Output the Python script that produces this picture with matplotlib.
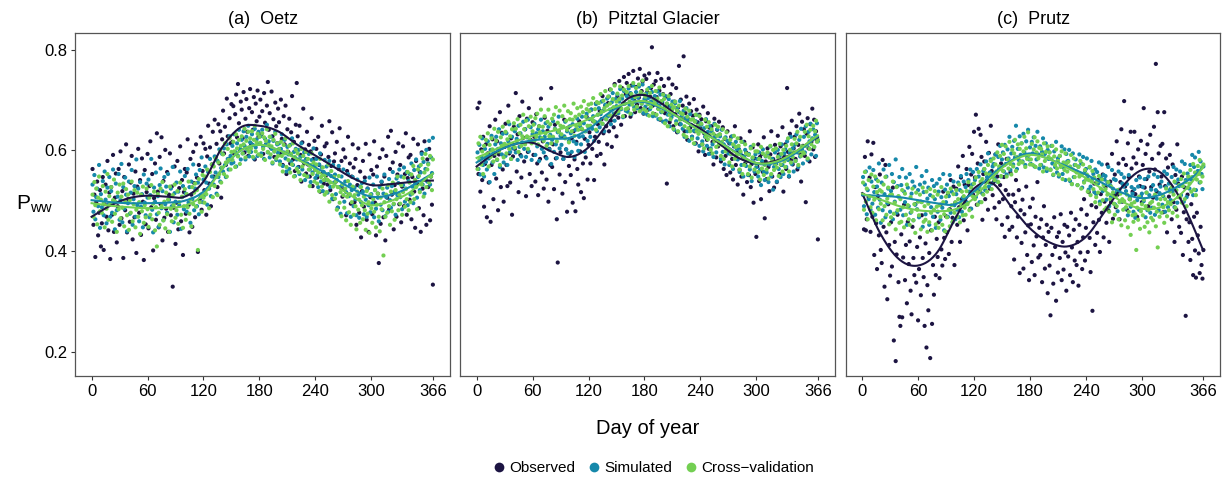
import numpy as np
import matplotlib
matplotlib.use("Agg")
import matplotlib.pyplot as plt
from matplotlib.lines import Line2D

plt.rcParams['font.family'] = ['Liberation Sans', 'DejaVu Sans']

days = np.arange(1, 367)
knot_days = [0, 20, 40, 60, 80, 100, 120, 140, 160, 180, 200, 220, 240, 260, 280, 300, 320, 340, 360, 366]

titles = ["(a)  Oetz", "(b)  Pitztal Glacier", "(c)  Prutz"]
series_names = ["Observed", "Simulated", "Cross\u2212validation"]
colors = ["#1c1442", "#1688aa", "#73cf52"]

# ---- (a) Oetz ----
oetz_obs = [
    0.563, 0.452, 0.512, 0.388, 0.497, 0.538, 0.431, 0.476, 0.521, 0.409,
    0.455, 0.547, 0.402, 0.493, 0.532, 0.468, 0.579, 0.441, 0.516, 0.384,
    0.527, 0.472, 0.591, 0.438, 0.506, 0.554, 0.417, 0.489, 0.563, 0.452,
    0.598, 0.465, 0.519, 0.386, 0.547, 0.481, 0.612, 0.437, 0.503, 0.572,
    0.458, 0.536, 0.589, 0.423, 0.514, 0.467, 0.558, 0.396, 0.528, 0.603,
    0.476, 0.541, 0.432, 0.584, 0.498, 0.382, 0.561, 0.453, 0.517, 0.593,
    0.445, 0.529, 0.618, 0.487, 0.553, 0.401, 0.505, 0.574, 0.462, 0.634,
    0.518, 0.447, 0.587, 0.493, 0.626, 0.421, 0.539, 0.466, 0.601, 0.484,
    0.557, 0.438, 0.512, 0.594, 0.471, 0.528, 0.329, 0.486, 0.568, 0.414,
    0.496, 0.579, 0.443, 0.525, 0.608, 0.459, 0.541, 0.392, 0.517, 0.563,
    0.474, 0.556, 0.622, 0.491, 0.437, 0.583, 0.512, 0.448, 0.597, 0.535,
    0.467, 0.612, 0.546, 0.398, 0.571, 0.503, 0.627, 0.482, 0.559, 0.614,
    0.521, 0.603, 0.472, 0.588, 0.649, 0.534, 0.606, 0.489, 0.572, 0.637,
    0.548, 0.661, 0.586, 0.613, 0.527, 0.652, 0.574, 0.638, 0.506, 0.622,
    0.679, 0.594, 0.647, 0.571, 0.703, 0.628, 0.583, 0.664, 0.614, 0.692,
    0.617, 0.688, 0.593, 0.672, 0.711, 0.626, 0.732, 0.654, 0.602, 0.697,
    0.681, 0.624, 0.716, 0.596, 0.663, 0.702, 0.637, 0.589, 0.684, 0.722,
    0.613, 0.676, 0.641, 0.706, 0.582, 0.693, 0.658, 0.719, 0.627, 0.667,
    0.701, 0.632, 0.678, 0.593, 0.714, 0.655, 0.612, 0.689, 0.736, 0.641,
    0.674, 0.606, 0.717, 0.628, 0.662, 0.587, 0.695, 0.648, 0.614, 0.683,
    0.656, 0.594, 0.701, 0.623, 0.571, 0.668, 0.612, 0.689, 0.553, 0.642,
    0.597, 0.663, 0.574, 0.636, 0.708, 0.582, 0.617, 0.559, 0.651, 0.734,
    0.628, 0.567, 0.649, 0.591, 0.538, 0.616, 0.683, 0.574, 0.602, 0.554,
    0.637, 0.572, 0.611, 0.548, 0.598, 0.664, 0.529, 0.583, 0.619, 0.561,
    0.603, 0.546, 0.627, 0.571, 0.518, 0.592, 0.649, 0.556, 0.534, 0.608,
    0.549, 0.614, 0.532, 0.587, 0.658, 0.521, 0.569, 0.636, 0.503, 0.578,
    0.594, 0.538, 0.617, 0.486, 0.563, 0.644, 0.526, 0.579, 0.508, 0.602,
    0.523, 0.586, 0.471, 0.559, 0.627, 0.512, 0.574, 0.494, 0.548, 0.612,
    0.566, 0.497, 0.583, 0.452, 0.531, 0.604, 0.476, 0.558, 0.427, 0.519,
    0.579, 0.488, 0.546, 0.613, 0.462, 0.524, 0.438, 0.592, 0.507, 0.561,
    0.473, 0.552, 0.618, 0.496, 0.431, 0.568, 0.514, 0.376, 0.585, 0.454,
    0.537, 0.602, 0.467, 0.548, 0.421, 0.589, 0.506, 0.627, 0.482, 0.563,
    0.639, 0.512, 0.576, 0.443, 0.531, 0.597, 0.468, 0.552, 0.614, 0.493,
    0.571, 0.457, 0.528, 0.608, 0.489, 0.553, 0.634, 0.472, 0.545, 0.586,
    0.502, 0.591, 0.463, 0.547, 0.623, 0.518, 0.446, 0.579, 0.534, 0.612,
    0.485, 0.557, 0.438, 0.596, 0.524, 0.471, 0.618, 0.543, 0.452, 0.582,
    0.527, 0.603, 0.461, 0.548, 0.492, 0.333]
oetz_sim = [
    0.532, 0.478, 0.551, 0.463, 0.507, 0.524, 0.489, 0.571, 0.446, 0.513,
    0.487, 0.539, 0.471, 0.558, 0.502, 0.455, 0.526, 0.492, 0.547, 0.468,
    0.519, 0.476, 0.562, 0.497, 0.443, 0.534, 0.481, 0.508, 0.553, 0.462,
    0.501, 0.573, 0.457, 0.527, 0.484, 0.546, 0.512, 0.439, 0.495, 0.538,
    0.474, 0.516, 0.561, 0.452, 0.503, 0.529, 0.468, 0.582, 0.491, 0.524,
    0.459, 0.537, 0.488, 0.513, 0.447, 0.552, 0.496, 0.471, 0.534, 0.506,
    0.542, 0.467, 0.511, 0.583, 0.482, 0.437, 0.526, 0.498, 0.556, 0.473,
    0.509, 0.448, 0.531, 0.564, 0.485, 0.519, 0.461, 0.547, 0.493, 0.528,
    0.476, 0.553, 0.502, 0.438, 0.524, 0.489, 0.567, 0.457, 0.515, 0.498,
    0.536, 0.472, 0.518, 0.491, 0.558, 0.444, 0.507, 0.529, 0.483, 0.549,
    0.514, 0.478, 0.563, 0.496, 0.527, 0.456, 0.538, 0.503, 0.572, 0.481,
    0.524, 0.552, 0.489, 0.536, 0.473, 0.561, 0.507, 0.586, 0.497, 0.542,
    0.511, 0.568, 0.536, 0.492, 0.557, 0.524, 0.583, 0.509, 0.548, 0.571,
    0.532, 0.588, 0.556, 0.514, 0.579, 0.547, 0.602, 0.538, 0.565, 0.593,
    0.558, 0.604, 0.571, 0.547, 0.612, 0.583, 0.562, 0.628, 0.589, 0.574,
    0.609, 0.576, 0.632, 0.597, 0.568, 0.614, 0.589, 0.641, 0.603, 0.582,
    0.621, 0.594, 0.638, 0.609, 0.582, 0.627, 0.601, 0.649, 0.588, 0.616,
    0.597, 0.632, 0.611, 0.584, 0.643, 0.606, 0.622, 0.589, 0.637, 0.613,
    0.628, 0.594, 0.641, 0.607, 0.583, 0.623, 0.612, 0.651, 0.596, 0.618,
    0.586, 0.627, 0.603, 0.574, 0.619, 0.598, 0.637, 0.581, 0.612, 0.595,
    0.614, 0.578, 0.603, 0.632, 0.569, 0.596, 0.621, 0.584, 0.558, 0.607,
    0.592, 0.563, 0.611, 0.578, 0.624, 0.571, 0.597, 0.549, 0.603, 0.582,
    0.566, 0.601, 0.553, 0.587, 0.614, 0.562, 0.578, 0.596, 0.541, 0.583,
    0.574, 0.548, 0.593, 0.562, 0.537, 0.581, 0.556, 0.604, 0.569, 0.545,
    0.583, 0.551, 0.527, 0.572, 0.594, 0.538, 0.566, 0.519, 0.557, 0.581,
    0.541, 0.568, 0.516, 0.553, 0.579, 0.527, 0.549, 0.504, 0.571, 0.536,
    0.552, 0.513, 0.541, 0.486, 0.569, 0.527, 0.474, 0.548, 0.531, 0.562,
    0.498, 0.538, 0.517, 0.475, 0.553, 0.509, 0.532, 0.468, 0.521, 0.547,
    0.489, 0.526, 0.503, 0.471, 0.542, 0.512, 0.466, 0.528, 0.497, 0.535,
    0.518, 0.473, 0.539, 0.502, 0.468, 0.524, 0.491, 0.546, 0.477, 0.513,
    0.495, 0.532, 0.467, 0.521, 0.484, 0.548, 0.506, 0.459, 0.527, 0.492,
    0.538, 0.481, 0.514, 0.552, 0.469, 0.507, 0.526, 0.478, 0.543, 0.501,
    0.486, 0.529, 0.557, 0.493, 0.518, 0.472, 0.544, 0.511, 0.535, 0.562,
    0.507, 0.548, 0.483, 0.531, 0.566, 0.498, 0.524, 0.557, 0.491, 0.539,
    0.553, 0.512, 0.574, 0.528, 0.495, 0.561, 0.534, 0.582, 0.506, 0.547,
    0.568, 0.521, 0.556, 0.593, 0.532, 0.577, 0.514, 0.563, 0.601, 0.538,
    0.574, 0.619, 0.532, 0.586, 0.555, 0.625]
oetz_cv = [
    0.512, 0.468, 0.537, 0.491, 0.524, 0.453, 0.506, 0.548, 0.479, 0.502,
    0.476, 0.529, 0.495, 0.447, 0.518, 0.484, 0.553, 0.462, 0.509, 0.493,
    0.527, 0.458, 0.501, 0.542, 0.474, 0.497, 0.438, 0.516, 0.483, 0.532,
    0.465, 0.508, 0.486, 0.534, 0.449, 0.497, 0.523, 0.471, 0.512, 0.442,
    0.501, 0.476, 0.538, 0.459, 0.493, 0.521, 0.447, 0.482, 0.516, 0.468,
    0.497, 0.434, 0.512, 0.479, 0.528, 0.456, 0.491, 0.467, 0.524, 0.483,
    0.448, 0.506, 0.472, 0.531, 0.463, 0.494, 0.518, 0.441, 0.487, 0.409,
    0.513, 0.476, 0.452, 0.524, 0.489, 0.537, 0.461, 0.498, 0.445, 0.516,
    0.473, 0.502, 0.438, 0.528, 0.484, 0.459, 0.511, 0.492, 0.532, 0.466,
    0.481, 0.519, 0.454, 0.497, 0.536, 0.472, 0.508, 0.446, 0.489, 0.523,
    0.462, 0.513, 0.487, 0.538, 0.474, 0.502, 0.449, 0.527, 0.493, 0.516,
    0.534, 0.488, 0.521, 0.402, 0.543, 0.497, 0.512, 0.478, 0.551, 0.506,
    0.496, 0.548, 0.513, 0.562, 0.524, 0.485, 0.557, 0.531, 0.572, 0.507,
    0.568, 0.529, 0.584, 0.547, 0.511, 0.576, 0.553, 0.598, 0.536, 0.566,
    0.592, 0.553, 0.614, 0.576, 0.548, 0.603, 0.581, 0.624, 0.562, 0.597,
    0.581, 0.617, 0.598, 0.567, 0.632, 0.604, 0.588, 0.621, 0.573, 0.609,
    0.628, 0.594, 0.612, 0.643, 0.586, 0.619, 0.603, 0.637, 0.597, 0.624,
    0.604, 0.638, 0.587, 0.621, 0.649, 0.598, 0.616, 0.633, 0.592, 0.627,
    0.615, 0.589, 0.634, 0.603, 0.626, 0.581, 0.619, 0.642, 0.597, 0.611,
    0.627, 0.592, 0.608, 0.576, 0.621, 0.598, 0.633, 0.584, 0.614, 0.589,
    0.603, 0.572, 0.617, 0.589, 0.558, 0.611, 0.594, 0.624, 0.567, 0.598,
    0.581, 0.609, 0.556, 0.593, 0.572, 0.614, 0.548, 0.587, 0.601, 0.563,
    0.594, 0.557, 0.582, 0.541, 0.603, 0.568, 0.589, 0.551, 0.576, 0.597,
    0.548, 0.583, 0.562, 0.529, 0.571, 0.594, 0.553, 0.576, 0.538, 0.561,
    0.572, 0.534, 0.556, 0.519, 0.583, 0.547, 0.528, 0.566, 0.541, 0.512,
    0.553, 0.517, 0.541, 0.572, 0.498, 0.536, 0.559, 0.511, 0.528, 0.547,
    0.504, 0.538, 0.482, 0.527, 0.549, 0.496, 0.517, 0.469, 0.533, 0.511,
    0.486, 0.524, 0.461, 0.508, 0.539, 0.477, 0.513, 0.452, 0.497, 0.528,
    0.472, 0.511, 0.489, 0.443, 0.518, 0.482, 0.502, 0.456, 0.527, 0.491,
    0.463, 0.508, 0.481, 0.442, 0.519, 0.474, 0.497, 0.436, 0.512, 0.485,
    0.456, 0.503, 0.478, 0.521, 0.447, 0.492, 0.514, 0.468, 0.439, 0.506,
    0.483, 0.524, 0.391, 0.497, 0.468, 0.512, 0.476, 0.531, 0.489, 0.452,
    0.518, 0.479, 0.536, 0.494, 0.462, 0.521, 0.503, 0.548, 0.481, 0.512,
    0.494, 0.531, 0.472, 0.517, 0.546, 0.488, 0.523, 0.503, 0.557, 0.481,
    0.536, 0.497, 0.552, 0.514, 0.569, 0.503, 0.541, 0.527, 0.483, 0.562,
    0.549, 0.517, 0.571, 0.532, 0.584, 0.508, 0.556, 0.593, 0.527, 0.562,
    0.572, 0.536, 0.589, 0.548, 0.521, 0.582]
oetz_obs_line = [0.468, 0.490, 0.505, 0.510, 0.508, 0.508, 0.538, 0.606, 0.646, 0.649,
                 0.638, 0.612, 0.590, 0.567, 0.545, 0.531, 0.533, 0.537, 0.540, 0.540]
oetz_sim_line = [0.501, 0.497, 0.495, 0.495, 0.496, 0.500, 0.518, 0.563, 0.600, 0.611,
                 0.601, 0.584, 0.566, 0.545, 0.523, 0.508, 0.511, 0.526, 0.548, 0.554]
oetz_cv_line = [0.495, 0.490, 0.487, 0.485, 0.486, 0.490, 0.512, 0.563, 0.600, 0.611,
                0.601, 0.583, 0.562, 0.533, 0.508, 0.491, 0.499, 0.515, 0.546, 0.554]

# ---- (b) Pitztal Glacier ----
pitztal_obs = [
    0.684, 0.553, 0.695, 0.518, 0.602, 0.541, 0.627, 0.488, 0.573, 0.612,
    0.467, 0.594, 0.536, 0.648, 0.458, 0.571, 0.622, 0.503, 0.589, 0.661,
    0.544, 0.618, 0.481, 0.592, 0.676, 0.527, 0.635, 0.562, 0.498, 0.607,
    0.653, 0.571, 0.529, 0.689, 0.594, 0.536, 0.624, 0.472, 0.588, 0.647,
    0.603, 0.714, 0.558, 0.632, 0.517, 0.668, 0.591, 0.546, 0.697, 0.625,
    0.578, 0.642, 0.509, 0.663, 0.597, 0.684, 0.553, 0.621, 0.529, 0.656,
    0.591, 0.627, 0.538, 0.672, 0.574, 0.511, 0.648, 0.583, 0.703, 0.556,
    0.618, 0.524, 0.665, 0.587, 0.542, 0.639, 0.498, 0.603, 0.571, 0.724,
    0.567, 0.612, 0.523, 0.651, 0.584, 0.463, 0.377, 0.638, 0.552, 0.596,
    0.627, 0.514, 0.583, 0.661, 0.537, 0.602, 0.478, 0.645, 0.569, 0.593,
    0.551, 0.624, 0.496, 0.638, 0.582, 0.479, 0.617, 0.563, 0.532, 0.658,
    0.598, 0.517, 0.642, 0.574, 0.505, 0.623, 0.586, 0.667, 0.542, 0.611,
    0.636, 0.574, 0.681, 0.603, 0.658, 0.541, 0.627, 0.693, 0.589, 0.652,
    0.617, 0.679, 0.593, 0.662, 0.708, 0.634, 0.572, 0.689, 0.648, 0.612,
    0.694, 0.638, 0.721, 0.659, 0.607, 0.683, 0.646, 0.732, 0.671, 0.628,
    0.707, 0.665, 0.738, 0.682, 0.651, 0.724, 0.693, 0.746, 0.668, 0.712,
    0.734, 0.682, 0.752, 0.711, 0.667, 0.729, 0.694, 0.758, 0.703, 0.676,
    0.726, 0.691, 0.743, 0.705, 0.762, 0.684, 0.718, 0.737, 0.673, 0.749,
    0.698, 0.742, 0.716, 0.681, 0.753, 0.707, 0.724, 0.805, 0.689, 0.731,
    0.672, 0.738, 0.706, 0.754, 0.683, 0.719, 0.661, 0.742, 0.695, 0.712,
    0.728, 0.674, 0.707, 0.534, 0.689, 0.743, 0.656, 0.712, 0.681, 0.731,
    0.648, 0.697, 0.672, 0.724, 0.636, 0.685, 0.768, 0.652, 0.701, 0.663,
    0.689, 0.787, 0.638, 0.674, 0.707, 0.621, 0.662, 0.693, 0.645, 0.678,
    0.627, 0.669, 0.702, 0.638, 0.614, 0.681, 0.656, 0.598, 0.671, 0.643,
    0.662, 0.612, 0.687, 0.634, 0.591, 0.658, 0.621, 0.674, 0.603, 0.645,
    0.594, 0.648, 0.617, 0.572, 0.663, 0.629, 0.586, 0.641, 0.608, 0.657,
    0.631, 0.578, 0.612, 0.646, 0.563, 0.623, 0.589, 0.551, 0.638, 0.597,
    0.614, 0.556, 0.627, 0.583, 0.542, 0.608, 0.648, 0.571, 0.596, 0.532,
    0.603, 0.561, 0.624, 0.548, 0.589, 0.512, 0.617, 0.574, 0.596, 0.537,
    0.592, 0.551, 0.638, 0.527, 0.573, 0.606, 0.496, 0.584, 0.553, 0.428,
    0.568, 0.612, 0.539, 0.587, 0.503, 0.593, 0.557, 0.626, 0.465, 0.578,
    0.543, 0.604, 0.567, 0.519, 0.592, 0.638, 0.548, 0.583, 0.526, 0.611,
    0.574, 0.537, 0.629, 0.592, 0.553, 0.608, 0.571, 0.646, 0.518, 0.587,
    0.612, 0.563, 0.724, 0.597, 0.548, 0.633, 0.581, 0.659, 0.572, 0.604,
    0.627, 0.583, 0.648, 0.562, 0.611, 0.673, 0.594, 0.538, 0.657, 0.609,
    0.642, 0.589, 0.497, 0.633, 0.664, 0.604, 0.578, 0.652, 0.617, 0.683,
    0.602, 0.661, 0.587, 0.638, 0.619, 0.423]
pitztal_sim = [
    0.596, 0.563, 0.611, 0.552, 0.587, 0.624, 0.571, 0.548, 0.603, 0.577,
    0.562, 0.618, 0.584, 0.537, 0.601, 0.629, 0.576, 0.594, 0.553, 0.612,
    0.627, 0.581, 0.603, 0.642, 0.567, 0.614, 0.592, 0.633, 0.576, 0.608,
    0.589, 0.634, 0.571, 0.618, 0.652, 0.597, 0.583, 0.627, 0.604, 0.641,
    0.638, 0.596, 0.623, 0.581, 0.649, 0.607, 0.634, 0.588, 0.616, 0.657,
    0.603, 0.642, 0.587, 0.626, 0.661, 0.598, 0.619, 0.646, 0.581, 0.632,
    0.617, 0.653, 0.591, 0.634, 0.608, 0.642, 0.579, 0.626, 0.661, 0.603,
    0.638, 0.596, 0.627, 0.654, 0.584, 0.613, 0.647, 0.602, 0.631, 0.573,
    0.621, 0.658, 0.597, 0.643, 0.612, 0.585, 0.636, 0.667, 0.604, 0.629,
    0.611, 0.646, 0.583, 0.628, 0.657, 0.602, 0.638, 0.594, 0.619, 0.648,
    0.634, 0.597, 0.652, 0.618, 0.587, 0.641, 0.613, 0.663, 0.599, 0.627,
    0.648, 0.612, 0.667, 0.628, 0.654, 0.597, 0.638, 0.673, 0.619, 0.645,
    0.662, 0.627, 0.681, 0.643, 0.668, 0.619, 0.657, 0.692, 0.638, 0.671,
    0.684, 0.646, 0.672, 0.697, 0.653, 0.679, 0.638, 0.691, 0.662, 0.703,
    0.668, 0.707, 0.681, 0.652, 0.696, 0.714, 0.673, 0.659, 0.702, 0.688,
    0.711, 0.674, 0.697, 0.722, 0.682, 0.703, 0.666, 0.718, 0.693, 0.679,
    0.708, 0.677, 0.723, 0.691, 0.714, 0.672, 0.703, 0.729, 0.686, 0.697,
    0.716, 0.684, 0.705, 0.727, 0.679, 0.712, 0.693, 0.731, 0.674, 0.702,
    0.687, 0.713, 0.671, 0.704, 0.724, 0.682, 0.697, 0.716, 0.668, 0.701,
    0.708, 0.669, 0.694, 0.717, 0.662, 0.689, 0.711, 0.676, 0.698, 0.657,
    0.684, 0.708, 0.659, 0.693, 0.671, 0.702, 0.648, 0.688, 0.666, 0.697,
    0.672, 0.641, 0.694, 0.658, 0.683, 0.637, 0.676, 0.698, 0.652, 0.669,
    0.643, 0.679, 0.627, 0.664, 0.684, 0.638, 0.661, 0.619, 0.672, 0.651,
    0.627, 0.662, 0.639, 0.613, 0.658, 0.671, 0.624, 0.647, 0.609, 0.654,
    0.651, 0.618, 0.598, 0.644, 0.627, 0.662, 0.609, 0.637, 0.593, 0.648,
    0.604, 0.638, 0.612, 0.587, 0.653, 0.627, 0.596, 0.642, 0.619, 0.631,
    0.628, 0.583, 0.641, 0.597, 0.612, 0.572, 0.626, 0.603, 0.619, 0.594,
    0.571, 0.614, 0.592, 0.628, 0.563, 0.609, 0.584, 0.617, 0.603, 0.582,
    0.602, 0.557, 0.594, 0.571, 0.617, 0.548, 0.588, 0.601, 0.569, 0.579,
    0.551, 0.593, 0.562, 0.607, 0.539, 0.584, 0.576, 0.558, 0.592, 0.567,
    0.583, 0.548, 0.596, 0.562, 0.531, 0.579, 0.602, 0.557, 0.541, 0.588,
    0.556, 0.594, 0.537, 0.572, 0.608, 0.549, 0.583, 0.522, 0.567, 0.596,
    0.574, 0.538, 0.601, 0.563, 0.589, 0.547, 0.612, 0.571, 0.553, 0.594,
    0.602, 0.567, 0.618, 0.581, 0.549, 0.596, 0.627, 0.573, 0.604, 0.558,
    0.611, 0.579, 0.632, 0.596, 0.567, 0.621, 0.588, 0.643, 0.602, 0.574,
    0.627, 0.596, 0.648, 0.609, 0.581, 0.637, 0.618, 0.653, 0.592, 0.624,
    0.642, 0.607, 0.631, 0.589, 0.654, 0.618]
pitztal_cv = [
    0.563, 0.614, 0.581, 0.627, 0.572, 0.598, 0.553, 0.609, 0.586, 0.621,
    0.592, 0.634, 0.568, 0.611, 0.587, 0.624, 0.602, 0.578, 0.643, 0.594,
    0.619, 0.582, 0.637, 0.598, 0.571, 0.626, 0.609, 0.647, 0.586, 0.613,
    0.637, 0.594, 0.622, 0.657, 0.603, 0.628, 0.583, 0.642, 0.611, 0.654,
    0.606, 0.643, 0.618, 0.662, 0.597, 0.634, 0.651, 0.609, 0.628, 0.671,
    0.642, 0.612, 0.659, 0.628, 0.603, 0.648, 0.621, 0.667, 0.614, 0.638,
    0.651, 0.619, 0.664, 0.627, 0.673, 0.612, 0.648, 0.636, 0.681, 0.624,
    0.647, 0.619, 0.668, 0.634, 0.609, 0.657, 0.681, 0.628, 0.652, 0.614,
    0.663, 0.627, 0.671, 0.642, 0.686, 0.618, 0.655, 0.637, 0.679, 0.649,
    0.632, 0.668, 0.647, 0.689, 0.624, 0.659, 0.641, 0.678, 0.616, 0.662,
    0.674, 0.638, 0.661, 0.693, 0.629, 0.667, 0.648, 0.684, 0.641, 0.671,
    0.652, 0.687, 0.643, 0.676, 0.698, 0.638, 0.667, 0.682, 0.649, 0.691,
    0.678, 0.649, 0.693, 0.661, 0.704, 0.657, 0.682, 0.641, 0.696, 0.671,
    0.694, 0.658, 0.712, 0.677, 0.653, 0.699, 0.684, 0.718, 0.662, 0.689,
    0.707, 0.671, 0.693, 0.721, 0.668, 0.702, 0.686, 0.729, 0.674, 0.697,
    0.713, 0.678, 0.702, 0.727, 0.684, 0.709, 0.668, 0.721, 0.693, 0.682,
    0.716, 0.684, 0.728, 0.697, 0.673, 0.712, 0.691, 0.734, 0.681, 0.706,
    0.724, 0.687, 0.709, 0.731, 0.678, 0.716, 0.693, 0.739, 0.682, 0.711,
    0.707, 0.678, 0.721, 0.692, 0.669, 0.714, 0.686, 0.728, 0.674, 0.702,
    0.694, 0.718, 0.671, 0.703, 0.682, 0.725, 0.663, 0.698, 0.677, 0.711,
    0.702, 0.654, 0.687, 0.693, 0.648, 0.708, 0.671, 0.662, 0.691, 0.682,
    0.643, 0.686, 0.697, 0.653, 0.679, 0.638, 0.689, 0.661, 0.674, 0.662,
    0.672, 0.631, 0.648, 0.683, 0.627, 0.667, 0.644, 0.679, 0.638, 0.661,
    0.623, 0.662, 0.614, 0.657, 0.671, 0.638, 0.649, 0.633, 0.668, 0.641,
    0.653, 0.612, 0.638, 0.604, 0.661, 0.627, 0.647, 0.622, 0.656, 0.631,
    0.601, 0.642, 0.594, 0.633, 0.618, 0.651, 0.607, 0.629, 0.647, 0.612,
    0.632, 0.589, 0.617, 0.642, 0.583, 0.624, 0.598, 0.636, 0.604, 0.603,
    0.576, 0.621, 0.593, 0.568, 0.612, 0.629, 0.584, 0.607, 0.591, 0.624,
    0.609, 0.562, 0.598, 0.617, 0.553, 0.583, 0.571, 0.612, 0.594, 0.579,
    0.553, 0.591, 0.568, 0.604, 0.546, 0.586, 0.611, 0.562, 0.598, 0.573,
    0.598, 0.557, 0.583, 0.542, 0.607, 0.564, 0.594, 0.551, 0.571, 0.589,
    0.562, 0.596, 0.544, 0.586, 0.609, 0.553, 0.579, 0.601, 0.561, 0.573,
    0.604, 0.566, 0.587, 0.549, 0.613, 0.572, 0.593, 0.558, 0.601, 0.578,
    0.567, 0.609, 0.584, 0.624, 0.558, 0.601, 0.576, 0.612, 0.587, 0.596,
    0.623, 0.579, 0.614, 0.637, 0.571, 0.598, 0.627, 0.589, 0.608, 0.596,
    0.594, 0.637, 0.609, 0.651, 0.584, 0.628, 0.603, 0.641, 0.612, 0.622,
    0.649, 0.607, 0.638, 0.659, 0.617, 0.621]
pitztal_obs_line = [0.568, 0.596, 0.612, 0.615, 0.598, 0.587, 0.606, 0.652, 0.700, 0.710,
                    0.691, 0.662, 0.643, 0.614, 0.586, 0.574, 0.579, 0.595, 0.620, 0.626]
pitztal_sim_line = [0.576, 0.597, 0.612, 0.620, 0.623, 0.625, 0.642, 0.672, 0.693, 0.696,
                    0.682, 0.662, 0.638, 0.618, 0.594, 0.574, 0.575, 0.592, 0.620, 0.628]
pitztal_cv_line = [0.585, 0.602, 0.617, 0.629, 0.638, 0.648, 0.662, 0.680, 0.693, 0.698,
                   0.684, 0.662, 0.638, 0.617, 0.593, 0.575, 0.577, 0.595, 0.622, 0.630]

# ---- (c) Prutz ----
prutz_obs = [
    0.512, 0.443, 0.587, 0.441, 0.463, 0.618, 0.507, 0.546, 0.438, 0.592,
    0.468, 0.615, 0.392, 0.527, 0.455, 0.364, 0.509, 0.431, 0.552, 0.402,
    0.376, 0.581, 0.448, 0.329, 0.571, 0.437, 0.304, 0.493, 0.412, 0.351,
    0.457, 0.369, 0.526, 0.222, 0.418, 0.181, 0.393, 0.472, 0.338, 0.269,
    0.251, 0.433, 0.268, 0.387, 0.492, 0.342, 0.412, 0.296, 0.458, 0.374,
    0.419, 0.321, 0.274, 0.448, 0.386, 0.352, 0.493, 0.337, 0.408, 0.262,
    0.364, 0.427, 0.312, 0.471, 0.386, 0.348, 0.251, 0.415, 0.208, 0.332,
    0.282, 0.396, 0.187, 0.441, 0.255, 0.372, 0.313, 0.468, 0.352, 0.424,
    0.388, 0.457, 0.346, 0.492, 0.403, 0.371, 0.518, 0.426, 0.384, 0.469,
    0.437, 0.512, 0.394, 0.483, 0.541, 0.418, 0.466, 0.528, 0.372, 0.496,
    0.524, 0.452, 0.568, 0.487, 0.418, 0.546, 0.503, 0.589, 0.461, 0.532,
    0.498, 0.563, 0.441, 0.531, 0.607, 0.484, 0.552, 0.593, 0.512, 0.637,
    0.546, 0.671, 0.492, 0.574, 0.643, 0.518, 0.631, 0.587, 0.462, 0.553,
    0.578, 0.503, 0.617, 0.541, 0.482, 0.595, 0.524, 0.649, 0.559, 0.511,
    0.537, 0.486, 0.592, 0.463, 0.548, 0.612, 0.497, 0.531, 0.574, 0.452,
    0.503, 0.547, 0.428, 0.521, 0.583, 0.467, 0.512, 0.442, 0.556, 0.489,
    0.448, 0.512, 0.383, 0.497, 0.541, 0.427, 0.468, 0.521, 0.356, 0.481,
    0.416, 0.502, 0.365, 0.473, 0.437, 0.528, 0.392, 0.451, 0.342, 0.487,
    0.453, 0.378, 0.504, 0.411, 0.352, 0.468, 0.429, 0.537, 0.387, 0.446,
    0.392, 0.463, 0.338, 0.427, 0.489, 0.365, 0.412, 0.452, 0.316, 0.438,
    0.371, 0.272, 0.446, 0.392, 0.335, 0.467, 0.408, 0.301, 0.428, 0.357,
    0.437, 0.386, 0.473, 0.342, 0.418, 0.363, 0.452, 0.397, 0.321, 0.448,
    0.389, 0.431, 0.352, 0.476, 0.407, 0.338, 0.442, 0.381, 0.463, 0.372,
    0.418, 0.331, 0.452, 0.397, 0.483, 0.364, 0.427, 0.503, 0.381, 0.446,
    0.472, 0.398, 0.517, 0.426, 0.358, 0.491, 0.281, 0.457, 0.534, 0.412,
    0.487, 0.436, 0.541, 0.462, 0.398, 0.513, 0.476, 0.552, 0.427, 0.498,
    0.527, 0.456, 0.572, 0.481, 0.418, 0.538, 0.497, 0.593, 0.464, 0.512,
    0.552, 0.487, 0.618, 0.512, 0.574, 0.463, 0.537, 0.642, 0.498, 0.583,
    0.698, 0.528, 0.571, 0.482, 0.614, 0.547, 0.503, 0.637, 0.564, 0.518,
    0.586, 0.637, 0.513, 0.574, 0.468, 0.602, 0.548, 0.529, 0.619, 0.497,
    0.571, 0.684, 0.526, 0.593, 0.543, 0.612, 0.489, 0.558, 0.631, 0.527,
    0.583, 0.506, 0.647, 0.562, 0.772, 0.518, 0.676, 0.594, 0.532, 0.609,
    0.548, 0.613, 0.477, 0.676, 0.529, 0.584, 0.437, 0.566, 0.508, 0.591,
    0.523, 0.463, 0.572, 0.497, 0.418, 0.551, 0.482, 0.612, 0.534, 0.448,
    0.507, 0.436, 0.548, 0.392, 0.477, 0.526, 0.271, 0.463, 0.512, 0.418,
    0.457, 0.382, 0.493, 0.424, 0.352, 0.468, 0.401, 0.347, 0.476, 0.431,
    0.395, 0.356, 0.448, 0.372, 0.345, 0.402]
prutz_sim = [
    0.547, 0.489, 0.532, 0.558, 0.473, 0.521, 0.503, 0.566, 0.482, 0.538,
    0.494, 0.561, 0.517, 0.472, 0.543, 0.528, 0.486, 0.574, 0.502, 0.456,
    0.536, 0.481, 0.562, 0.513, 0.467, 0.548, 0.495, 0.524, 0.571, 0.478,
    0.519, 0.553, 0.463, 0.537, 0.498, 0.582, 0.476, 0.529, 0.508, 0.547,
    0.482, 0.531, 0.563, 0.471, 0.518, 0.497, 0.546, 0.452, 0.526, 0.489,
    0.553, 0.476, 0.514, 0.538, 0.461, 0.528, 0.492, 0.567, 0.483, 0.521,
    0.467, 0.532, 0.498, 0.549, 0.448, 0.517, 0.536, 0.473, 0.559, 0.504,
    0.526, 0.452, 0.511, 0.487, 0.541, 0.468, 0.529, 0.503, 0.446, 0.534,
    0.478, 0.518, 0.543, 0.462, 0.507, 0.486, 0.553, 0.441, 0.522, 0.497,
    0.532, 0.468, 0.509, 0.551, 0.476, 0.518, 0.457, 0.538, 0.491, 0.463,
    0.513, 0.482, 0.536, 0.467, 0.521, 0.549, 0.478, 0.506, 0.538, 0.491,
    0.527, 0.553, 0.496, 0.541, 0.518, 0.562, 0.484, 0.532, 0.557, 0.506,
    0.541, 0.507, 0.563, 0.522, 0.548, 0.497, 0.572, 0.536, 0.514, 0.559,
    0.563, 0.521, 0.578, 0.547, 0.594, 0.528, 0.556, 0.582, 0.534, 0.568,
    0.573, 0.544, 0.592, 0.556, 0.538, 0.587, 0.563, 0.609, 0.548, 0.582,
    0.596, 0.558, 0.611, 0.573, 0.552, 0.602, 0.584, 0.627, 0.561, 0.594,
    0.607, 0.572, 0.619, 0.586, 0.649, 0.563, 0.603, 0.581, 0.628, 0.591,
    0.614, 0.578, 0.633, 0.596, 0.571, 0.618, 0.587, 0.641, 0.582, 0.606,
    0.573, 0.617, 0.594, 0.626, 0.568, 0.609, 0.582, 0.637, 0.592, 0.564,
    0.608, 0.571, 0.597, 0.624, 0.566, 0.593, 0.614, 0.559, 0.601, 0.583,
    0.596, 0.562, 0.609, 0.574, 0.551, 0.598, 0.567, 0.617, 0.556, 0.584,
    0.548, 0.589, 0.571, 0.608, 0.553, 0.566, 0.602, 0.541, 0.593, 0.578,
    0.579, 0.601, 0.539, 0.564, 0.533, 0.594, 0.547, 0.571, 0.582, 0.558,
    0.531, 0.568, 0.592, 0.551, 0.574, 0.526, 0.587, 0.538, 0.559, 0.563,
    0.584, 0.549, 0.522, 0.566, 0.528, 0.579, 0.543, 0.553, 0.517, 0.562,
    0.513, 0.557, 0.534, 0.576, 0.498, 0.546, 0.572, 0.519, 0.551, 0.542,
    0.549, 0.502, 0.537, 0.567, 0.489, 0.531, 0.508, 0.561, 0.524, 0.543,
    0.493, 0.541, 0.516, 0.479, 0.558, 0.522, 0.498, 0.553, 0.534, 0.528,
    0.546, 0.484, 0.519, 0.533, 0.471, 0.551, 0.507, 0.488, 0.527, 0.514,
    0.478, 0.523, 0.466, 0.541, 0.501, 0.528, 0.482, 0.546, 0.509, 0.514,
    0.527, 0.499, 0.543, 0.467, 0.516, 0.481, 0.548, 0.511, 0.476, 0.522,
    0.486, 0.531, 0.552, 0.472, 0.521, 0.504, 0.547, 0.481, 0.515, 0.528,
    0.538, 0.492, 0.509, 0.558, 0.478, 0.527, 0.553, 0.487, 0.534, 0.521,
    0.501, 0.547, 0.518, 0.567, 0.487, 0.536, 0.562, 0.496, 0.542, 0.529,
    0.558, 0.511, 0.578, 0.529, 0.498, 0.573, 0.541, 0.507, 0.554, 0.547,
    0.524, 0.571, 0.542, 0.591, 0.511, 0.567, 0.586, 0.521, 0.554, 0.559,
    0.597, 0.536, 0.578, 0.553, 0.523, 0.568]
prutz_cv = [
    0.536, 0.482, 0.557, 0.498, 0.524, 0.463, 0.541, 0.509, 0.487, 0.552,
    0.476, 0.528, 0.502, 0.548, 0.461, 0.517, 0.539, 0.483, 0.521, 0.494,
    0.518, 0.461, 0.532, 0.489, 0.547, 0.472, 0.504, 0.526, 0.453, 0.511,
    0.467, 0.512, 0.538, 0.474, 0.496, 0.443, 0.527, 0.481, 0.509, 0.456,
    0.503, 0.458, 0.521, 0.487, 0.447, 0.514, 0.472, 0.532, 0.491, 0.463,
    0.452, 0.507, 0.478, 0.524, 0.461, 0.493, 0.436, 0.516, 0.482, 0.498,
    0.471, 0.512, 0.443, 0.497, 0.526, 0.458, 0.489, 0.462, 0.518, 0.438,
    0.494, 0.457, 0.523, 0.476, 0.441, 0.508, 0.482, 0.519, 0.453, 0.488,
    0.512, 0.446, 0.491, 0.468, 0.527, 0.452, 0.497, 0.473, 0.439, 0.508,
    0.467, 0.516, 0.482, 0.449, 0.524, 0.491, 0.458, 0.513, 0.476, 0.497,
    0.521, 0.468, 0.503, 0.532, 0.457, 0.494, 0.518, 0.471, 0.509, 0.486,
    0.472, 0.519, 0.493, 0.537, 0.481, 0.512, 0.526, 0.468, 0.508, 0.534,
    0.503, 0.546, 0.518, 0.492, 0.557, 0.526, 0.538, 0.497, 0.543, 0.512,
    0.563, 0.527, 0.554, 0.518, 0.571, 0.536, 0.552, 0.579, 0.523, 0.548,
    0.584, 0.541, 0.572, 0.558, 0.596, 0.537, 0.568, 0.589, 0.549, 0.611,
    0.559, 0.593, 0.571, 0.608, 0.548, 0.582, 0.564, 0.617, 0.573, 0.552,
    0.601, 0.568, 0.594, 0.621, 0.559, 0.587, 0.612, 0.573, 0.603, 0.578,
    0.614, 0.576, 0.598, 0.627, 0.567, 0.604, 0.583, 0.636, 0.591, 0.572,
    0.582, 0.613, 0.571, 0.602, 0.626, 0.567, 0.596, 0.618, 0.584, 0.605,
    0.571, 0.603, 0.592, 0.558, 0.614, 0.579, 0.597, 0.564, 0.608, 0.587,
    0.596, 0.561, 0.583, 0.609, 0.552, 0.588, 0.571, 0.602, 0.564, 0.579,
    0.552, 0.589, 0.567, 0.598, 0.543, 0.576, 0.561, 0.594, 0.573, 0.558,
    0.577, 0.542, 0.568, 0.591, 0.533, 0.562, 0.584, 0.547, 0.571, 0.556,
    0.531, 0.567, 0.548, 0.579, 0.524, 0.553, 0.572, 0.536, 0.561, 0.542,
    0.552, 0.518, 0.541, 0.567, 0.511, 0.538, 0.559, 0.523, 0.546, 0.497,
    0.507, 0.538, 0.516, 0.549, 0.493, 0.524, 0.542, 0.501, 0.531, 0.482,
    0.523, 0.486, 0.512, 0.537, 0.478, 0.503, 0.528, 0.457, 0.516, 0.494,
    0.472, 0.508, 0.489, 0.521, 0.463, 0.497, 0.514, 0.451, 0.503, 0.482,
    0.499, 0.461, 0.487, 0.512, 0.447, 0.478, 0.503, 0.432, 0.494, 0.471,
    0.458, 0.497, 0.473, 0.402, 0.486, 0.462, 0.508, 0.444, 0.479, 0.493,
    0.471, 0.502, 0.448, 0.489, 0.516, 0.457, 0.482, 0.437, 0.495, 0.466,
    0.498, 0.461, 0.486, 0.512, 0.449, 0.478, 0.407, 0.493, 0.468, 0.503,
    0.476, 0.511, 0.487, 0.456, 0.503, 0.524, 0.469, 0.497, 0.481, 0.518,
    0.493, 0.527, 0.476, 0.512, 0.538, 0.486, 0.521, 0.469, 0.507, 0.531,
    0.508, 0.543, 0.496, 0.529, 0.554, 0.503, 0.537, 0.489, 0.526, 0.548,
    0.534, 0.561, 0.518, 0.547, 0.573, 0.522, 0.556, 0.511, 0.542, 0.569,
    0.553, 0.581, 0.537, 0.566, 0.548, 0.572]
prutz_obs_line = [0.515, 0.433, 0.383, 0.371, 0.396, 0.465, 0.524, 0.534, 0.488, 0.445,
                  0.418, 0.409, 0.428, 0.478, 0.530, 0.561, 0.556, 0.508, 0.427, 0.400]
prutz_sim_line = [0.511, 0.510, 0.507, 0.501, 0.495, 0.493, 0.518, 0.553, 0.580, 0.594,
                  0.583, 0.568, 0.552, 0.533, 0.515, 0.505, 0.512, 0.530, 0.556, 0.568]
prutz_cv_line = [0.514, 0.502, 0.489, 0.481, 0.479, 0.483, 0.505, 0.548, 0.578, 0.591,
                 0.583, 0.565, 0.545, 0.520, 0.497, 0.484, 0.487, 0.510, 0.552, 0.568]

panels = [
    (oetz_obs, oetz_sim, oetz_cv, oetz_obs_line, oetz_sim_line, oetz_cv_line),
    (pitztal_obs, pitztal_sim, pitztal_cv, pitztal_obs_line, pitztal_sim_line, pitztal_cv_line),
    (prutz_obs, prutz_sim, prutz_cv, prutz_obs_line, prutz_sim_line, prutz_cv_line),
]


def smooth(xk, yk, n=400):
    # cubic hermite through the read-off knots, only for drawing
    xk = np.asarray(xk, float)
    yk = np.asarray(yk, float)
    m = np.gradient(yk, xk)
    xs = np.linspace(xk[0], xk[-1], n)
    i = np.clip(np.searchsorted(xk, xs) - 1, 0, len(xk) - 2)
    h = xk[i + 1] - xk[i]
    t = (xs - xk[i]) / h
    ys = ((2 * t**3 - 3 * t**2 + 1) * yk[i] + (t**3 - 2 * t**2 + t) * h * m[i]
          + (-2 * t**3 + 3 * t**2) * yk[i + 1] + (t**3 - t**2) * h * m[i + 1])
    return xs, ys


fig = plt.figure(figsize=(12.25, 4.79), dpi=100)
lefts = [0.0616, 0.3759, 0.6906]
for k, (left, title, data) in enumerate(zip(lefts, titles, panels)):
    ax = fig.add_axes([left, 0.2157, 0.3057, 0.716])
    for vals, c in zip(data[:3], colors):
        ax.scatter(days, vals, s=9, color=c, edgecolors='none', zorder=2)
    for vals, c in zip(data[3:], colors):
        xs, ys = smooth(knot_days, vals)
        ax.plot(xs, ys, color=c, lw=1.5, zorder=3)
    ax.set_xlim(-17.3, 384.3)
    ax.set_ylim(0.152, 0.834)
    ax.set_xticks([0, 60, 120, 180, 240, 300, 366])
    ax.set_yticks([0.2, 0.4, 0.6, 0.8])
    ax.set_yticklabels(['0.2', '0.4', '0.6', '0.8'])
    ax.tick_params(length=3, width=0.8, color='#333333', labelsize=12, pad=3)
    if k > 0:
        ax.tick_params(left=False, labelleft=False)
    for sp in ax.spines.values():
        sp.set_color('#555555')
        sp.set_linewidth(0.9)
    ax.set_title(title, fontsize=13, pad=6)

fig.text(0.529, 0.105, 'Day of year', ha='center', va='center', fontsize=14.5)
fig.text(0.028, 0.574, 'P$_{\\mathregular{ww}}$', ha='center', va='center', fontsize=15)

handles = [Line2D([], [], ls='none', marker='o', ms=7, color=c, markeredgewidth=0)
           for c in colors]
fig.legend(handles, series_names, loc='center', bbox_to_anchor=(0.532, 0.022), ncol=3,
           frameon=False, fontsize=11, handletextpad=0.1, columnspacing=0.6,
           handlelength=1.2)

fig.savefig('out.png', dpi=100)
